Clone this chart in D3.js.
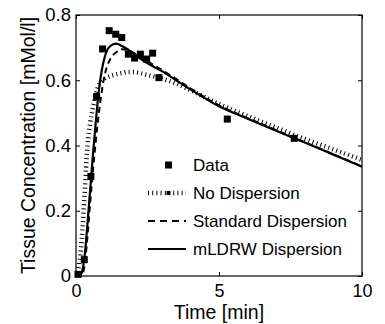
<!DOCTYPE html>
<html>
<head>
    <script src="https://d3js.org/d3.v7.min.js"></script>
    <style>
        body { margin: 0; background: #fff; }
        text { font-family: "Liberation Sans", Arial, sans-serif; fill: #000; }
    </style>
</head>
<body>
    <svg id="chart" width="385" height="324"></svg>
    <script>
        // measured points
        var dataT = [0.07, 0.29, 0.52, 0.72, 0.93, 1.16, 1.39, 1.60, 1.83, 2.05, 2.25, 2.47, 2.68, 2.90, 5.29, 7.63];
        var dataC = [0.005, 0.05, 0.305, 0.55, 0.696, 0.752, 0.741, 0.731, 0.68, 0.668, 0.68, 0.665, 0.683, 0.608, 0.481, 0.422];

        // model curves
        var curveT = [0, 0.1, 0.2, 0.3, 0.4, 0.5, 0.6, 0.7, 0.8, 0.9, 1.0, 1.2, 1.4, 1.6, 1.8, 2.0, 2.5, 3, 3.5, 4, 5, 6, 7, 8, 9, 10];
        var noDisp = [0, 0.03, 0.11, 0.25, 0.40, 0.47, 0.52, 0.56, 0.585, 0.598, 0.605, 0.613, 0.618, 0.622, 0.625, 0.625, 0.616, 0.605, 0.59, 0.57, 0.527, 0.49, 0.455, 0.42, 0.388, 0.356];
        var stdDisp = [0, 0, 0, 0.035, 0.12, 0.23, 0.33, 0.42, 0.5, 0.565, 0.615, 0.665, 0.685, 0.695, 0.693, 0.685, 0.658, 0.632, 0.604, 0.575, 0.523, 0.484, 0.447, 0.41, 0.373, 0.336];
        var mldrw = [0, 0, 0.01, 0.06, 0.16, 0.27, 0.38, 0.48, 0.57, 0.63, 0.67, 0.705, 0.712, 0.705, 0.695, 0.682, 0.652, 0.628, 0.6, 0.572, 0.52, 0.482, 0.445, 0.409, 0.372, 0.335];

        var xTicks = [0, 5, 10];
        var yTicks = [0, 0.2, 0.4, 0.6, 0.8];

        var svg = d3.select('#chart');
        var pLeft = 76, pRight = 362, pTop = 15, pBottom = 276;

        var x = d3.scaleLinear().domain([0, 10]).range([pLeft, pRight]);
        var y = d3.scaleLinear().domain([0, 0.8]).range([pBottom, pTop]);

        var plot = svg.append('g');
        plot.append('clipPath').attr('id', 'clip')
            .append('rect').attr('x', pLeft).attr('y', pTop)
            .attr('width', pRight - pLeft).attr('height', pBottom - pTop);

        var line = d3.line()
            .x(function(d) { return x(d[0]); })
            .y(function(d) { return y(d[1]); })
            .curve(d3.curveMonotoneX);

        function pairs(vals) {
            return curveT.map(function(t, i) { return [t, vals[i]]; });
        }

        var curves = plot.append('g').attr('clip-path', 'url(#clip)');
        curves.append('path').datum(pairs(noDisp))
            .attr('d', line).attr('fill', 'none').attr('stroke', '#000')
            .attr('stroke-width', 4.5).attr('stroke-dasharray', '1,3.2');
        curves.append('path').datum(pairs(stdDisp))
            .attr('d', line).attr('fill', 'none').attr('stroke', '#000')
            .attr('stroke-width', 2).attr('stroke-dasharray', '6,4');
        curves.append('path').datum(pairs(mldrw))
            .attr('d', line).attr('fill', 'none').attr('stroke', '#000')
            .attr('stroke-width', 2.2);

        plot.selectAll('rect.pt')
            .data(dataT.map(function(t, i) { return [t, dataC[i]]; }))
            .enter().append('rect')
            .attr('class', 'pt')
            .attr('x', function(d) { return x(d[0]) - 3.5; })
            .attr('y', function(d) { return y(d[1]) - 3.5; })
            .attr('width', 7).attr('height', 7)
            .attr('fill', '#000');

        // box and inward ticks
        svg.append('rect').attr('x', pLeft).attr('y', pTop)
            .attr('width', pRight - pLeft).attr('height', pBottom - pTop)
            .attr('fill', 'none').attr('stroke', '#000').attr('stroke-width', 1.2);

        var xAxis = d3.axisBottom(x).tickValues(xTicks).tickSize(-4).tickPadding(8)
            .tickFormat(d3.format('d'));
        var gx = svg.append('g').attr('transform', 'translate(0,' + pBottom + ')').call(xAxis);
        gx.select('.domain').remove();
        gx.selectAll('text').style('font-size', '18px').attr('font-family', null);

        var gxTop = svg.append('g').attr('transform', 'translate(0,' + pTop + ')')
            .call(d3.axisTop(x).tickValues(xTicks).tickSize(-4).tickFormat(''));
        gxTop.select('.domain').remove();

        var yAxis = d3.axisLeft(y).tickValues(yTicks).tickSize(-4).tickPadding(5)
            .tickFormat(function(d) { return d === 0 ? '0' : d3.format('.1f')(d); });
        var gy = svg.append('g').attr('transform', 'translate(' + pLeft + ',0)').call(yAxis);
        gy.select('.domain').remove();
        gy.selectAll('text').style('font-size', '18.5px').attr('font-family', null);

        var gyRight = svg.append('g').attr('transform', 'translate(' + pRight + ',0)')
            .call(d3.axisRight(y).tickValues(yTicks).tickSize(-4).tickFormat(''));
        gyRight.select('.domain').remove();

        // axis labels
        svg.append('text').attr('x', (pLeft + pRight) / 2).attr('y', 319)
            .attr('text-anchor', 'middle').style('font-size', '19.5px')
            .text('Time [min]');
        svg.append('text')
            .attr('transform', 'translate(35,' + (pTop + pBottom) / 2 + ') rotate(-90)')
            .attr('text-anchor', 'middle').style('font-size', '19.5px')
            .text('Tissue Concentration [mMol/l]');

        // legend
        var legendNames = ['Data', 'No Dispersion', 'Standard Dispersion', 'mLDRW Dispersion'];
        var lg = svg.append('g');
        var lx0 = 148, lx1 = 186, ly0 = 165, dy = 28;
        legendNames.forEach(function(name, i) {
            var ly = ly0 + i * dy;
            if (i === 0) {
                lg.append('rect').attr('x', 168.5 - 3.5).attr('y', ly - 3.5)
                    .attr('width', 7).attr('height', 7).attr('fill', '#000');
            } else {
                var seg = lg.append('line').attr('x1', lx0).attr('x2', lx1)
                    .attr('y1', ly).attr('y2', ly).attr('stroke', '#000');
                if (i === 1) {
                    seg.attr('stroke-width', 4.5).attr('stroke-dasharray', '1,3.2');
                    lg.append('rect').attr('x', 166.5).attr('y', ly - 2)
                        .attr('width', 4).attr('height', 4).attr('fill', '#000');
                } else if (i === 2) {
                    seg.attr('stroke-width', 2).attr('stroke-dasharray', '7,5');
                } else {
                    seg.attr('stroke-width', 2);
                }
            }
            lg.append('text').attr('x', 193).attr('y', ly + 6)
                .style('font-size', '17px').text(name);
        });
    </script>
</body>
</html>
